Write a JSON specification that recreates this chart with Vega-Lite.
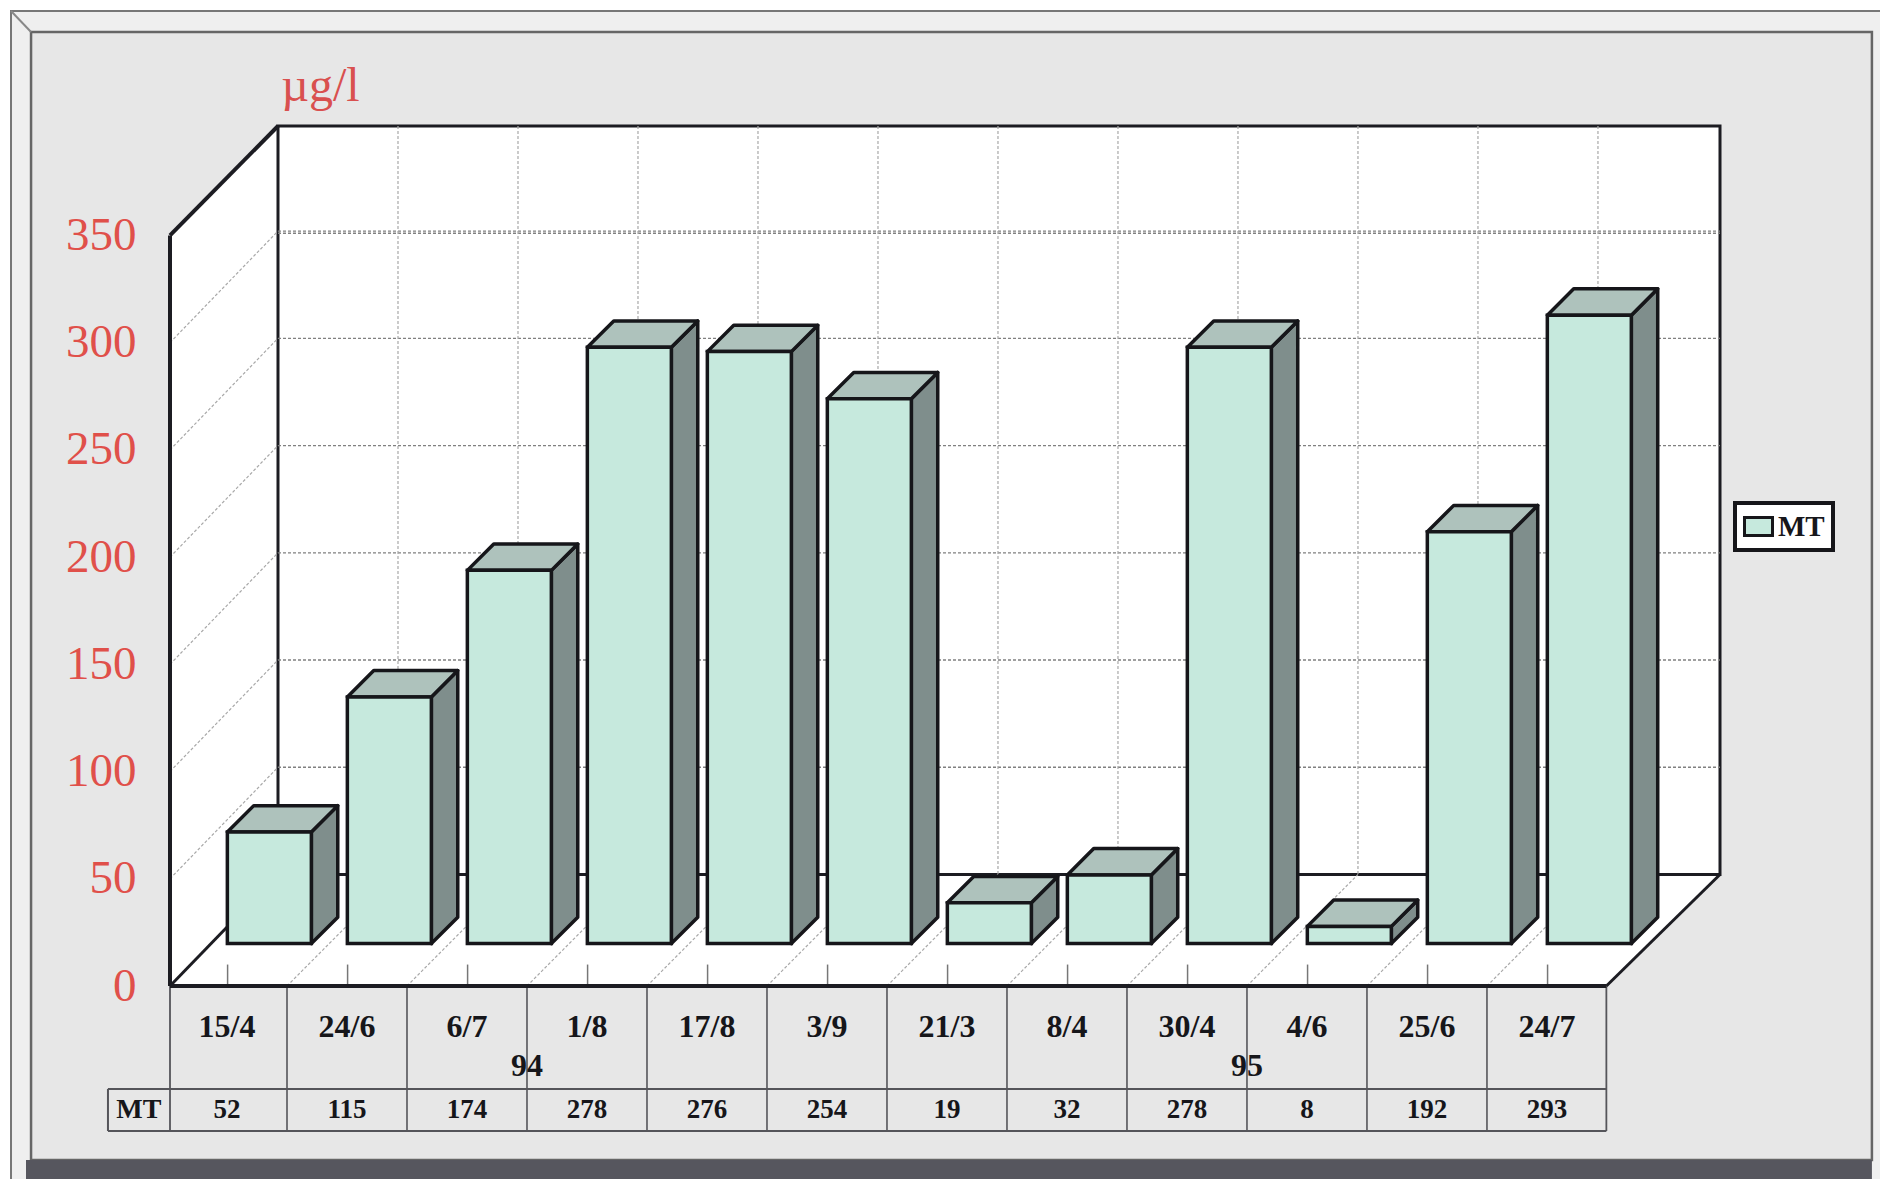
{
  "$schema": "https://vega.github.io/schema/vega-lite/v6.json",
  "width": 1550,
  "height": 860,
  "autosize": {"type": "none"},
  "padding": {"left": 170, "top": 126, "right": 160, "bottom": 193},
  "background": "#ffffff",
  "config": {"view": {"stroke": null}, "text": {"font": "Liberation Serif"}, "legend": {"strokeWidth": 4}},
  "resolve": {"axis": {"y": "independent"}},
  "datasets": {
    "bars": [
      {"date": "15/4", "year": "94", "MT": 52},
      {"date": "24/6", "year": "94", "MT": 115},
      {"date": "6/7", "year": "94", "MT": 174},
      {"date": "1/8", "year": "94", "MT": 278},
      {"date": "17/8", "year": "94", "MT": 276},
      {"date": "3/9", "year": "94", "MT": 254},
      {"date": "21/3", "year": "95", "MT": 19},
      {"date": "8/4", "year": "95", "MT": 32},
      {"date": "30/4", "year": "95", "MT": 278},
      {"date": "4/6", "year": "95", "MT": 8},
      {"date": "25/6", "year": "95", "MT": 192},
      {"date": "24/7", "year": "95", "MT": 293}
    ],
    "levels": [{"v": 50}, {"v": 100}, {"v": 150}, {"v": 200}, {"v": 250}, {"v": 300}],
    "slots": [{"k": 1}, {"k": 2}, {"k": 3}, {"k": 4}, {"k": 5}, {"k": 6}, {"k": 7}, {"k": 8}, {"k": 9}, {"k": 10}, {"k": 11}],
    "ticks": [{"k": 0}, {"k": 1}, {"k": 2}, {"k": 3}, {"k": 4}, {"k": 5}, {"k": 6}, {"k": 7}, {"k": 8}, {"k": 9}, {"k": 10}, {"k": 11}],
    "depths": [{"depth": 0}, {"depth": 1}],
    "one": [{}]
  },
  "layer": [
    {
      "data": {"name": "one"},
      "mark": {"type": "rect", "fill": "#efefef", "stroke": "#777777", "strokeWidth": 2},
      "encoding": {
        "x": {"datum": -1.325, "type": "quantitative", "scale": {"domain": [0, 12.917], "nice": false, "zero": false}, "axis": null},
        "x2": {"datum": 14.6},
        "y": {"datum": 454.6, "type": "quantitative", "scale": {"domain": [0, 401], "nice": false, "zero": false}, "axis": null},
        "y2": {"datum": -110}
      }
    },
    {
      "data": {"name": "one"},
      "mark": {"type": "rect", "fill": "#e7e7e7", "stroke": "#666666", "strokeWidth": 2.5},
      "encoding": {
        "x": {"datum": -1.158, "type": "quantitative", "axis": null},
        "x2": {"datum": 14.183},
        "y": {"datum": 444.8, "type": "quantitative", "axis": null},
        "y2": {"datum": -81.1}
      }
    },
    {
      "data": {"name": "one"},
      "mark": {"type": "rule", "stroke": "#888888", "strokeWidth": 2},
      "encoding": {
        "x": {"datum": -1.325, "type": "quantitative", "axis": null},
        "x2": {"datum": -1.158},
        "y": {"datum": 454.6, "type": "quantitative", "axis": null},
        "y2": {"datum": 444.8}
      }
    },
    {
      "data": {"name": "one"},
      "mark": {"type": "rect", "fill": "#56565e"},
      "encoding": {
        "x": {"datum": -1.2, "type": "quantitative", "axis": null},
        "x2": {"datum": 14.183},
        "y": {"datum": -81.1, "type": "quantitative", "axis": null},
        "y2": {"datum": -90}
      }
    },
    {
      "data": {"name": "depths"},
      "transform": [
        {"calculate": "datum.depth * 0.9", "as": "wx"},
        {"calculate": "datum.depth * 52", "as": "lo"},
        {"calculate": "350 + datum.depth * 51", "as": "hi"}
      ],
      "mark": {"type": "area", "orient": "vertical", "fill": "#ffffff"},
      "encoding": {
        "x": {"field": "wx", "type": "quantitative", "axis": null},
        "y": {"field": "hi", "type": "quantitative", "axis": null, "stack": null},
        "y2": {"field": "lo"}
      }
    },
    {
      "data": {"name": "depths"},
      "transform": [
        {"calculate": "datum.depth * 0.9", "as": "xl"},
        {"calculate": "11.97 + datum.depth * 0.947", "as": "xr"},
        {"calculate": "datum.depth * 52", "as": "fy"}
      ],
      "mark": {"type": "area", "orient": "horizontal", "fill": "#ffffff"},
      "encoding": {
        "x": {"field": "xl", "type": "quantitative", "axis": null, "stack": null},
        "x2": {"field": "xr"},
        "y": {"field": "fy", "type": "quantitative", "axis": null}
      }
    },
    {
      "data": {"name": "one"},
      "mark": {"type": "rect", "fill": "#ffffff", "stroke": "#1c1c22", "strokeWidth": 3},
      "encoding": {
        "x": {"datum": 0.9, "type": "quantitative", "axis": null},
        "x2": {"datum": 12.917},
        "y": {"datum": 401, "type": "quantitative", "axis": null},
        "y2": {"datum": 52}
      }
    },
    {
      "data": {"name": "levels"},
      "transform": [{"calculate": "datum.v + 52", "as": "yb"}, {"calculate": "0.9", "as": "a"}, {"calculate": "12.917", "as": "b"}],
      "mark": {"type": "rule", "stroke": "#808080", "strokeWidth": 1.3, "strokeDash": [3, 2]},
      "encoding": {
        "x": {"field": "a", "type": "quantitative", "axis": null},
        "x2": {"field": "b"},
        "y": {"field": "yb", "type": "quantitative", "axis": null}
      }
    },
    {
      "data": {"name": "one"},
      "mark": {"type": "rule", "stroke": "#808080", "strokeWidth": 1.3, "strokeDash": [3, 2]},
      "encoding": {
        "x": {"datum": 0.9, "type": "quantitative", "axis": null},
        "x2": {"datum": 12.917},
        "y": {"datum": 351, "type": "quantitative", "axis": null}
      }
    },
    {
      "data": {"name": "slots"},
      "transform": [{"calculate": "datum.k + 0.9", "as": "bx"}],
      "mark": {"type": "rule", "stroke": "#a8a8a8", "strokeWidth": 1.2, "strokeDash": [3, 2]},
      "encoding": {
        "x": {"field": "bx", "type": "quantitative", "axis": null},
        "y": {"datum": 401, "type": "quantitative", "axis": null},
        "y2": {"datum": 52}
      }
    },
    {
      "data": {"name": "levels"},
      "transform": [{"calculate": "0", "as": "fx"}, {"calculate": "0.9", "as": "bx"}, {"calculate": "datum.v + 52", "as": "by"}],
      "mark": {"type": "rule", "stroke": "#a8a8a8", "strokeWidth": 1.2, "strokeDash": [3, 2]},
      "encoding": {
        "x": {"field": "fx", "type": "quantitative", "axis": null},
        "x2": {"field": "bx"},
        "y": {"field": "v", "type": "quantitative", "axis": null},
        "y2": {"field": "by"}
      }
    },
    {
      "data": {"name": "slots"},
      "transform": [{"calculate": "datum.k - 0.025", "as": "fx"}, {"calculate": "datum.k + 0.9", "as": "bx"}, {"calculate": "0", "as": "fy"}, {"calculate": "52", "as": "by"}],
      "mark": {"type": "rule", "stroke": "#a8a8a8", "strokeWidth": 1.2, "strokeDash": [3, 2]},
      "encoding": {
        "x": {"field": "fx", "type": "quantitative", "axis": null},
        "x2": {"field": "bx"},
        "y": {"field": "fy", "type": "quantitative", "axis": null},
        "y2": {"field": "by"}
      }
    },
    {
      "data": {"name": "ticks"},
      "transform": [{"calculate": "datum.k + 0.48", "as": "tx"}],
      "mark": {"type": "rule", "stroke": "#777777", "strokeWidth": 1.5},
      "encoding": {
        "x": {"field": "tx", "type": "quantitative", "axis": null},
        "y": {"datum": 0, "type": "quantitative", "axis": null},
        "y2": {"datum": 10}
      }
    },
    {
      "data": {"name": "one"},
      "mark": {"type": "rule", "stroke": "#1c1c22", "strokeWidth": 4},
      "encoding": {
        "x": {"datum": 0, "type": "quantitative", "axis": null},
        "y": {"datum": 0, "type": "quantitative", "axis": null},
        "y2": {"datum": 350}
      }
    },
    {
      "data": {"name": "one"},
      "mark": {"type": "rule", "stroke": "#1c1c22", "strokeWidth": 4},
      "encoding": {
        "x": {"datum": 0, "type": "quantitative", "axis": null},
        "x2": {"datum": 0.9},
        "y": {"datum": 350, "type": "quantitative", "axis": null},
        "y2": {"datum": 401}
      }
    },
    {
      "data": {"name": "one"},
      "mark": {"type": "rule", "stroke": "#1c1c22", "strokeWidth": 3},
      "encoding": {
        "x": {"datum": 0, "type": "quantitative", "axis": null},
        "x2": {"datum": 0.9},
        "y": {"datum": 0, "type": "quantitative", "axis": null},
        "y2": {"datum": 52}
      }
    },
    {
      "data": {"name": "one"},
      "mark": {"type": "rule", "stroke": "#1c1c22", "strokeWidth": 3},
      "encoding": {
        "x": {"datum": 11.97, "type": "quantitative", "axis": null},
        "x2": {"datum": 12.917},
        "y": {"datum": 0, "type": "quantitative", "axis": null},
        "y2": {"datum": 52}
      }
    },
    {
      "data": {"name": "slots"},
      "transform": [{"calculate": "datum.k - 0.025", "as": "lx"}, {"calculate": "0", "as": "top"}, {"calculate": "-67.6", "as": "bot"}],
      "mark": {"type": "rule", "stroke": "#55555a", "strokeWidth": 1.6},
      "encoding": {
        "x": {"field": "lx", "type": "quantitative", "axis": null},
        "y": {"field": "top", "type": "quantitative", "axis": null},
        "y2": {"field": "bot"}
      }
    },
    {
      "data": {"name": "one"},
      "mark": {"type": "rule", "stroke": "#55555a", "strokeWidth": 1.8},
      "encoding": {
        "x": {"datum": 0, "type": "quantitative", "axis": null},
        "y": {"datum": 0, "type": "quantitative", "axis": null},
        "y2": {"datum": -67.6}
      }
    },
    {
      "data": {"name": "one"},
      "mark": {"type": "rule", "stroke": "#55555a", "strokeWidth": 1.8},
      "encoding": {
        "x": {"datum": 11.97, "type": "quantitative", "axis": null},
        "y": {"datum": 0, "type": "quantitative", "axis": null},
        "y2": {"datum": -67.6}
      }
    },
    {
      "data": {"name": "one"},
      "mark": {"type": "rule", "stroke": "#55555a", "strokeWidth": 2},
      "encoding": {
        "x": {"datum": -0.517, "type": "quantitative", "axis": null},
        "x2": {"datum": 11.97},
        "y": {"datum": -48, "type": "quantitative", "axis": null}
      }
    },
    {
      "data": {"name": "one"},
      "mark": {"type": "rule", "stroke": "#55555a", "strokeWidth": 2},
      "encoding": {
        "x": {"datum": -0.517, "type": "quantitative", "axis": null},
        "x2": {"datum": 11.97},
        "y": {"datum": -67.6, "type": "quantitative", "axis": null}
      }
    },
    {
      "data": {"name": "one"},
      "mark": {"type": "rule", "stroke": "#55555a", "strokeWidth": 2},
      "encoding": {
        "x": {"datum": -0.517, "type": "quantitative", "axis": null},
        "y": {"datum": -48, "type": "quantitative", "axis": null},
        "y2": {"datum": -67.6}
      }
    },
    {
      "data": {"name": "one"},
      "mark": {"type": "rule", "stroke": "#1c1c22", "strokeWidth": 4},
      "encoding": {
        "x": {"datum": 0, "type": "quantitative", "axis": null},
        "x2": {"datum": 11.97},
        "y": {"datum": 0, "type": "quantitative", "axis": null}
      }
    },
    {
      "data": {"name": "bars"},
      "transform": [
        {"window": [{"op": "row_number", "as": "n"}]},
        {"calculate": "[0, 1]", "as": "depth"},
        {"flatten": ["depth"]},
        {"calculate": "datum.n - 1 + 0.478 + 0.7 + datum.depth * 0.22", "as": "sx"},
        {"calculate": "19.8 + datum.depth * 12.3", "as": "lo"},
        {"calculate": "datum.MT + 19.8 + datum.depth * 12.3", "as": "hi"}
      ],
      "mark": {"type": "area", "orient": "vertical", "fill": "#7f8e8c", "stroke": "#16161a", "strokeWidth": 3.5, "strokeJoin": "round"},
      "encoding": {
        "x": {"field": "sx", "type": "quantitative", "axis": null},
        "y": {"field": "hi", "type": "quantitative", "axis": null, "stack": null},
        "y2": {"field": "lo"},
        "detail": {"field": "date"}
      }
    },
    {
      "data": {"name": "bars"},
      "transform": [
        {"window": [{"op": "row_number", "as": "n"}]},
        {"calculate": "[0, 1]", "as": "depth"},
        {"flatten": ["depth"]},
        {"calculate": "datum.n - 1 + 0.478 + datum.depth * 0.22", "as": "xl"},
        {"calculate": "datum.xl + 0.7", "as": "xr"},
        {"calculate": "datum.MT + 19.8 + datum.depth * 12.3", "as": "ty"}
      ],
      "mark": {"type": "area", "orient": "horizontal", "fill": "#aec2bc", "stroke": "#16161a", "strokeWidth": 3.5, "strokeJoin": "round"},
      "encoding": {
        "x": {"field": "xl", "type": "quantitative", "axis": null, "stack": null},
        "x2": {"field": "xr"},
        "y": {"field": "ty", "type": "quantitative", "axis": null},
        "detail": {"field": "date"}
      }
    },
    {
      "data": {"name": "bars"},
      "transform": [
        {"window": [{"op": "row_number", "as": "n"}]},
        {"calculate": "datum.n - 1 + 0.478", "as": "x0"},
        {"calculate": "datum.x0 + 0.7", "as": "x1"},
        {"calculate": "datum.MT + 19.8", "as": "top"}
      ],
      "mark": {"type": "rect", "stroke": "#16161a", "strokeWidth": 3.5},
      "encoding": {
        "x": {"field": "x0", "type": "quantitative", "axis": null},
        "x2": {"field": "x1"},
        "y": {"field": "top", "type": "quantitative", "axis": null},
        "y2": {"datum": 19.8},
        "color": {
          "datum": "MT",
          "scale": {"domain": ["MT"], "range": ["#c6e9dd"]},
          "legend": {
            "orient": "none", "legendX": 1565, "legendY": 377, "title": null,
            "fillColor": "#ffffff", "strokeColor": "#16161a", "padding": 8,
            "symbolType": "M-1,-0.65H1V0.65H-1Z", "symbolSize": 784, "symbolOffset": 0, "symbolStrokeColor": "#16161a", "symbolStrokeWidth": 3,
            "labelFont": "Liberation Serif", "labelFontSize": 29, "labelFontWeight": "bold", "labelColor": "#16161a", "labelOffset": 4
          }
        }
      }
    },
    {
      "data": {"name": "bars"},
      "transform": [
        {"window": [{"op": "row_number", "as": "n"}]},
        {"calculate": "datum.n - 0.525", "as": "cx"}
      ],
      "mark": {"type": "text", "font": "Liberation Serif", "fontWeight": "bold", "fontSize": 32, "baseline": "middle", "color": "#16161a"},
      "encoding": {
        "x": {"field": "cx", "type": "quantitative", "axis": null},
        "y": {"datum": -19, "type": "quantitative", "axis": null},
        "text": {"field": "date"}
      }
    },
    {
      "data": {"name": "bars"},
      "transform": [
        {"window": [{"op": "row_number", "as": "n"}]},
        {"calculate": "datum.n - 0.525", "as": "cx"}
      ],
      "mark": {"type": "text", "font": "Liberation Serif", "fontWeight": "bold", "fontSize": 27, "baseline": "middle", "color": "#16161a"},
      "encoding": {
        "x": {"field": "cx", "type": "quantitative", "axis": null},
        "y": {"datum": -58, "type": "quantitative", "axis": null},
        "text": {"field": "MT"}
      }
    },
    {
      "data": {"name": "bars"},
      "transform": [
        {"window": [{"op": "row_number", "as": "n"}]},
        {"aggregate": [{"op": "mean", "field": "n", "as": "mid"}], "groupby": ["year"]},
        {"calculate": "datum.mid - 0.525", "as": "cx"}
      ],
      "mark": {"type": "text", "font": "Liberation Serif", "fontWeight": "bold", "fontSize": 32, "baseline": "middle", "color": "#16161a"},
      "encoding": {
        "x": {"field": "cx", "type": "quantitative", "axis": null},
        "y": {"datum": -37.5, "type": "quantitative", "axis": null},
        "text": {"field": "year"}
      }
    },
    {
      "data": {"name": "one"},
      "mark": {"type": "text", "font": "Liberation Serif", "fontWeight": "bold", "fontSize": 28, "baseline": "middle", "color": "#16161a", "text": "MT"},
      "encoding": {
        "x": {"datum": -0.26, "type": "quantitative", "axis": null},
        "y": {
          "datum": -58, "type": "quantitative",
          "axis": {
            "orient": "left",
            "values": [0, 50, 100, 150, 200, 250, 300, 350],
            "domain": false, "ticks": false, "grid": false, "zindex": 1,
            "labelFont": "Liberation Serif", "labelFontSize": 47, "labelColor": "#e0504a", "labelPadding": 34,
            "title": "µg/l", "titleFont": "Liberation Serif", "titleFontSize": 48, "titleFontWeight": "normal", "titleColor": "#d9504f",
            "titleAngle": 0, "titleX": 150, "titleY": -26, "titleAlign": "center", "titleBaseline": "alphabetic"
          }
        }
      }
    }
  ]
}
